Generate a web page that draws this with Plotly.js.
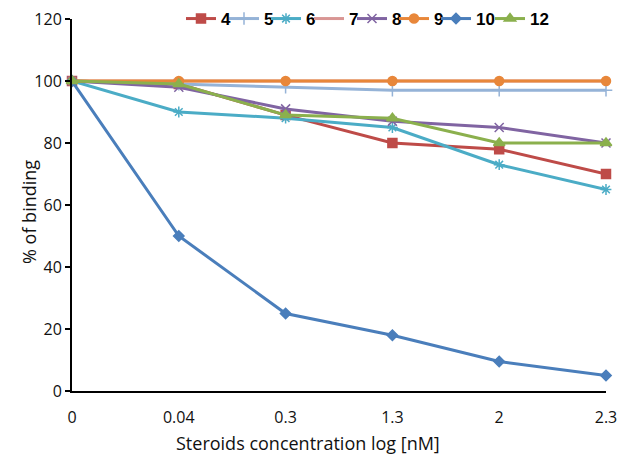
<!DOCTYPE html>
<html>
<head>
<meta charset="utf-8">
<script src="https://cdn.plot.ly/plotly-3.0.1.min.js"></script>
<style>html,body{margin:0;padding:0;background:#fff;}#chart{width:619px;height:454px;}</style>
</head>
<body>
<div id="chart"></div>
<script>
const categories = ["0", "0.04", "0.3", "1.3", "2", "2.3"];
const s4  = [100, 99, 89, 80, 78, 70];
const s5  = [100, 99, 98, 97, 97, 97];
const s6  = [100, 90, 88, 85, 73, 65];
const s7  = [100, 100, 100, 100, 100, 100];
const s8  = [100, 98, 91, 87, 85, 80];
const s9  = [100, 100, 100, 100, 100, 100];
const s10 = [100, 50, 25, 18, 9.5, 5];
const s12 = [100, 99, 89, 88, 80, 80];
const yTicks = [0, 20, 40, 60, 80, 100, 120];
const xTitle = 'Steroids concentration log [nM]';
const yTitle = '% of binding';

function tr(name, y, color, symbol, size, legendId, extra) {
  return Object.assign({
    type: 'scatter', mode: 'lines+markers', name: name, x: categories, y: y,
    line: {color: color, width: 3},
    marker: {color: color, symbol: symbol, size: size, line: {color: color, width: 1.5}},
    cliponaxis: false, legend: legendId
  }, extra || {});
}

const data = [
  tr('4', s4, '#BE4B48', 'square', 9, 'legend'),
  tr('5', s5, '#95B3D7', 'cross-thin-open', 9, 'legend2'),
  tr('6', s6, '#4BACC6', 'asterisk-open', 9, 'legend3'),
  tr('7', s7, '#D99694', 'circle', 0, 'legend4', {mode: 'lines'}),
  tr('8', s8, '#8064A2', 'x-thin-open', 9, 'legend5'),
  tr('9', s9, '#E8873A', 'circle', 9, 'legend6'),
  tr('10', s10, '#4A7EBB', 'diamond', 8, 'legend7'),
  tr('12', s12, '#8BB04D', 'triangle-up', 10, 'legend8')
];

const plotL = 72, plotW = 534, plotT = 19, plotH = 372;
const legendLeftPx = [181, 224, 266, 309, 352, 394, 436, 490];
function leg(px) {
  return {
    orientation: 'h', x: (px - plotL) / plotW, xanchor: 'left', y: 1.0, yanchor: 'middle',
    font: {family: 'Liberation Sans, Arial, sans-serif', size: 17, color: '#000', weight: 'bold'},
    itemwidth: 30, bgcolor: 'rgba(0,0,0,0)', borderwidth: 0
  };
}

const layout = {
  width: 619, height: 454,
  margin: {l: 72, r: 13, t: 19, b: 63, autoexpand: false},
  paper_bgcolor: '#fff', plot_bgcolor: '#fff',
  font: {family: 'Open Sans, DejaVu Sans, sans-serif', size: 16, color: '#111'},
  showlegend: true,
  legend: leg(legendLeftPx[0]),
  legend2: leg(legendLeftPx[1]),
  legend3: leg(legendLeftPx[2]),
  legend4: leg(legendLeftPx[3]),
  legend5: leg(legendLeftPx[4]),
  legend6: leg(legendLeftPx[5]),
  legend7: leg(legendLeftPx[6]),
  legend8: leg(legendLeftPx[7]),
  xaxis: {
    type: 'category', range: [0, 5],
    showline: true, linecolor: '#000', linewidth: 2,
    ticks: '', showgrid: false, zeroline: false,
    tickfont: {size: 16}, ticklabelstandoff: 11
  },
  yaxis: {
    range: [0, 120], tickvals: yTicks, ticktext: yTicks.map(String),
    showline: true, linecolor: '#000', linewidth: 2,
    ticks: 'outside', ticklen: 5, tickwidth: 2, tickcolor: '#000',
    showgrid: false, zeroline: false, tickfont: {size: 16}
  },
  annotations: [
    {text: xTitle, xref: 'paper', yref: 'paper', x: (308 - plotL) / plotW, y: -(443 - (plotT + plotH)) / plotH,
     xanchor: 'center', yanchor: 'middle', showarrow: false, font: {size: 18, color: '#111'}},
    {text: yTitle, xref: 'paper', yref: 'paper', x: (29 - plotL) / plotW, y: 1 - (212 - plotT) / plotH,
     xanchor: 'center', yanchor: 'middle', textangle: -90, showarrow: false, font: {size: 18, color: '#111'}}
  ]
};

Plotly.newPlot('chart', data, layout, {displayModeBar: false, staticPlot: true});
</script>
</body>
</html>
